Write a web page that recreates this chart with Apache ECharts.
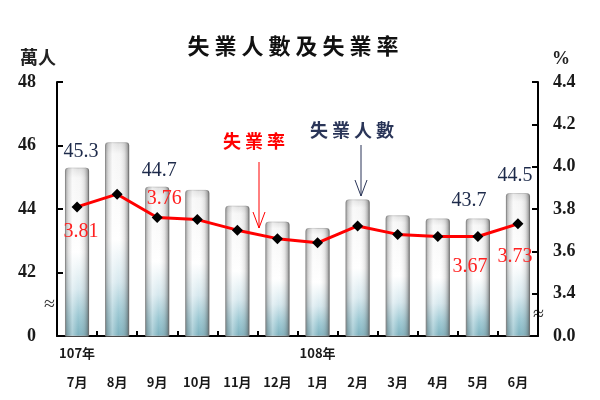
<!DOCTYPE html>
<html><head><meta charset="utf-8">
<script src="https://cdn.jsdelivr.net/npm/echarts@6/dist/echarts.min.js"></script>
<style>html,body{margin:0;padding:0;background:#fff}#c{width:600px;height:400px}</style>
</head><body><div id="c"></div>
<script>
var months = ['7月','8月','9月','10月','11月','12月','1月','2月','3月','4月','5月','6月'];
var years = ['107年','','','','','','108年','','','','',''];
var unemployed = [45.3,46.1,44.7,44.6,44.1,43.6,43.4,44.3,43.8,43.7,43.7,44.5];
var rate = [3.81,3.87,3.76,3.75,3.70,3.66,3.64,3.72,3.68,3.67,3.67,3.73];
var leftTicks = {40:'0',42:'42',44:'44',46:'46',48:'48'};
var shownBarLabels = [0,2,10,11];
var titleText = '失業人數及失業率';
var noteRate = '失業率';
var noteCount = '失業人數';

var serif = '"Liberation Serif","DejaVu Serif",serif';
var cjk = '"Noto Sans CJK TC","Noto Sans CJK SC",sans-serif';

function spaced(s){return s.split('').map(function(c){return '{c|'+c+'}';}).join('');}

var barLabelOffsets = {0:[4,0],2:[2,0],10:[-9,-2],11:[-3,-1]};
var rateLabelCfg = {
  0:{position:'bottom',offset:[4,4]},
  2:{position:'top',offset:[7,2]},
  10:{position:'bottom',offset:[-8,10]},
  11:{position:'bottom',offset:[-3,12]}
};

var chart = echarts.init(document.getElementById('c'));
chart.setOption({
  backgroundColor:'#fff',
  animation:false,
  title:{text:spaced(titleText),left:288,top:30,textAlign:'center',
    textStyle:{rich:{c:{fontFamily:cjk,fontSize:22,fontWeight:'bold',color:'#111',padding:[0,2.5,0,2.5]}}}},
  grid:{left:57,right:62,top:82,bottom:64},
  xAxis:{type:'category',data:months,
    axisLine:{lineStyle:{color:'#000',width:2}},
    axisTick:{show:true,inside:true,length:5,lineStyle:{color:'#000',width:2}},
    axisLabel:{interval:0,margin:3,fontFamily:cjk,fontWeight:'bold',fontSize:13,color:'#1a1a1a',lineHeight:29,
      formatter:function(v,i){return (years[i]||'')+'\n'+v;}}},
  yAxis:[
    {type:'value',min:40,max:48,interval:2,
     name:'萬人',nameLocation:'end',nameGap:16,
     nameTextStyle:{fontFamily:cjk,fontWeight:'bold',fontSize:18,color:'#222',align:'right',verticalAlign:'bottom',padding:[0,1,0,0]},
     axisLine:{show:true,lineStyle:{color:'#000',width:2}},
     axisTick:{show:true,inside:true,length:6,lineStyle:{color:'#000',width:2}},
     splitLine:{show:false},
     axisLabel:{margin:21,fontFamily:serif,fontWeight:'bold',fontSize:18,color:'#1a1a1a',
       formatter:function(v){return leftTicks[Math.round(v)]||'';}}},
    {type:'value',min:3.2,max:4.4,interval:0.2,position:'right',
     name:'%',nameLocation:'end',nameGap:14,
     nameTextStyle:{fontFamily:serif,fontWeight:'bold',fontSize:18,color:'#222',align:'left',verticalAlign:'bottom',padding:[0,0,0,14]},
     axisLine:{show:true,lineStyle:{color:'#000',width:2}},
     axisTick:{show:true,inside:true,length:6,lineStyle:{color:'#000',width:2}},
     splitLine:{show:false},
     axisLabel:{margin:15,fontFamily:serif,fontWeight:'bold',fontSize:18,color:'#1a1a1a',
       formatter:function(v){return v<3.3?'0.0':v.toFixed(1);}}}
  ],
  series:[
    {type:'bar',yAxisIndex:0,barWidth:24,z:2,
     data:unemployed.map(function(v,i){
       var o={value:v};
       if(shownBarLabels.indexOf(i)>=0){o.label={show:true,position:'top',distance:6,offset:barLabelOffsets[i]};}
       return o;}),
     label:{show:false,fontFamily:serif,fontSize:20,color:'#1d2a4a'},
     itemStyle:{borderRadius:[3,3,0,0],borderColor:'#b5b5b5',borderWidth:0.8,
       color:new echarts.graphic.LinearGradient(0,0,0,1,[
         {offset:0,color:'#dedede'},{offset:0.06,color:'#f6f6f6'},{offset:0.5,color:'#ffffff'},
         {offset:0.72,color:'#d6e8ee'},{offset:0.88,color:'#9cc8d3'},{offset:1,color:'#7db2bf'}])}},
    {type:'bar',yAxisIndex:0,barWidth:24,barGap:'-100%',z:3,silent:true,
     data:unemployed,
     itemStyle:{borderRadius:[3,3,0,0],
       color:new echarts.graphic.LinearGradient(0,0,1,0,[
         {offset:0,color:'rgba(70,70,70,0.55)'},{offset:0.14,color:'rgba(150,150,150,0.3)'},
         {offset:0.3,color:'rgba(255,255,255,0.35)'},{offset:0.55,color:'rgba(255,255,255,0)'},
         {offset:0.8,color:'rgba(140,140,140,0.2)'},{offset:0.92,color:'rgba(90,90,90,0.45)'},
         {offset:1,color:'rgba(50,50,50,0.65)'}])}},
    {type:'line',yAxisIndex:1,z:5,
     data:rate.map(function(v,i){
       var o={value:v};
       if(rateLabelCfg[i]){o.label={show:true,position:rateLabelCfg[i].position,offset:rateLabelCfg[i].offset};}
       return o;}),
     label:{show:false,fontFamily:serif,fontSize:20,color:'#ff2020'},
     lineStyle:{color:'#ff0000',width:3},
     symbol:'diamond',symbolSize:11,itemStyle:{color:'#000'}}
  ],
  graphic:[
    {type:'text',left:44,top:295,style:{text:'≈',font:'20px '+serif,fill:'#333'}},
    {type:'text',left:533,top:305,style:{text:'≈',font:'20px '+serif,fill:'#333'}},
    {type:'text',left:223,top:132,style:{text:spaced(noteRate),rich:{c:{fontFamily:cjk,fontSize:18,fontWeight:'bold',fill:'#ff0000',padding:[0,2,0,2]}}}},
    {type:'polyline',shape:{points:[[259,162],[259,228]]},style:{stroke:'#ff0000',lineWidth:1}},
    {type:'polyline',shape:{points:[[253,212],[259,228],[265,212]]},style:{stroke:'#ff0000',lineWidth:1,fill:null}},
    {type:'text',left:310,top:121,style:{text:spaced(noteCount),rich:{c:{fontFamily:cjk,fontSize:18,fontWeight:'bold',fill:'#2a3558',padding:[0,2,0,2]}}}},
    {type:'polyline',shape:{points:[[361,145],[361,196]]},style:{stroke:'#2a3558',lineWidth:1}},
    {type:'polyline',shape:{points:[[355,180],[361,196],[367,180]]},style:{stroke:'#2a3558',lineWidth:1,fill:null}}
  ]
});
</script></body></html>
